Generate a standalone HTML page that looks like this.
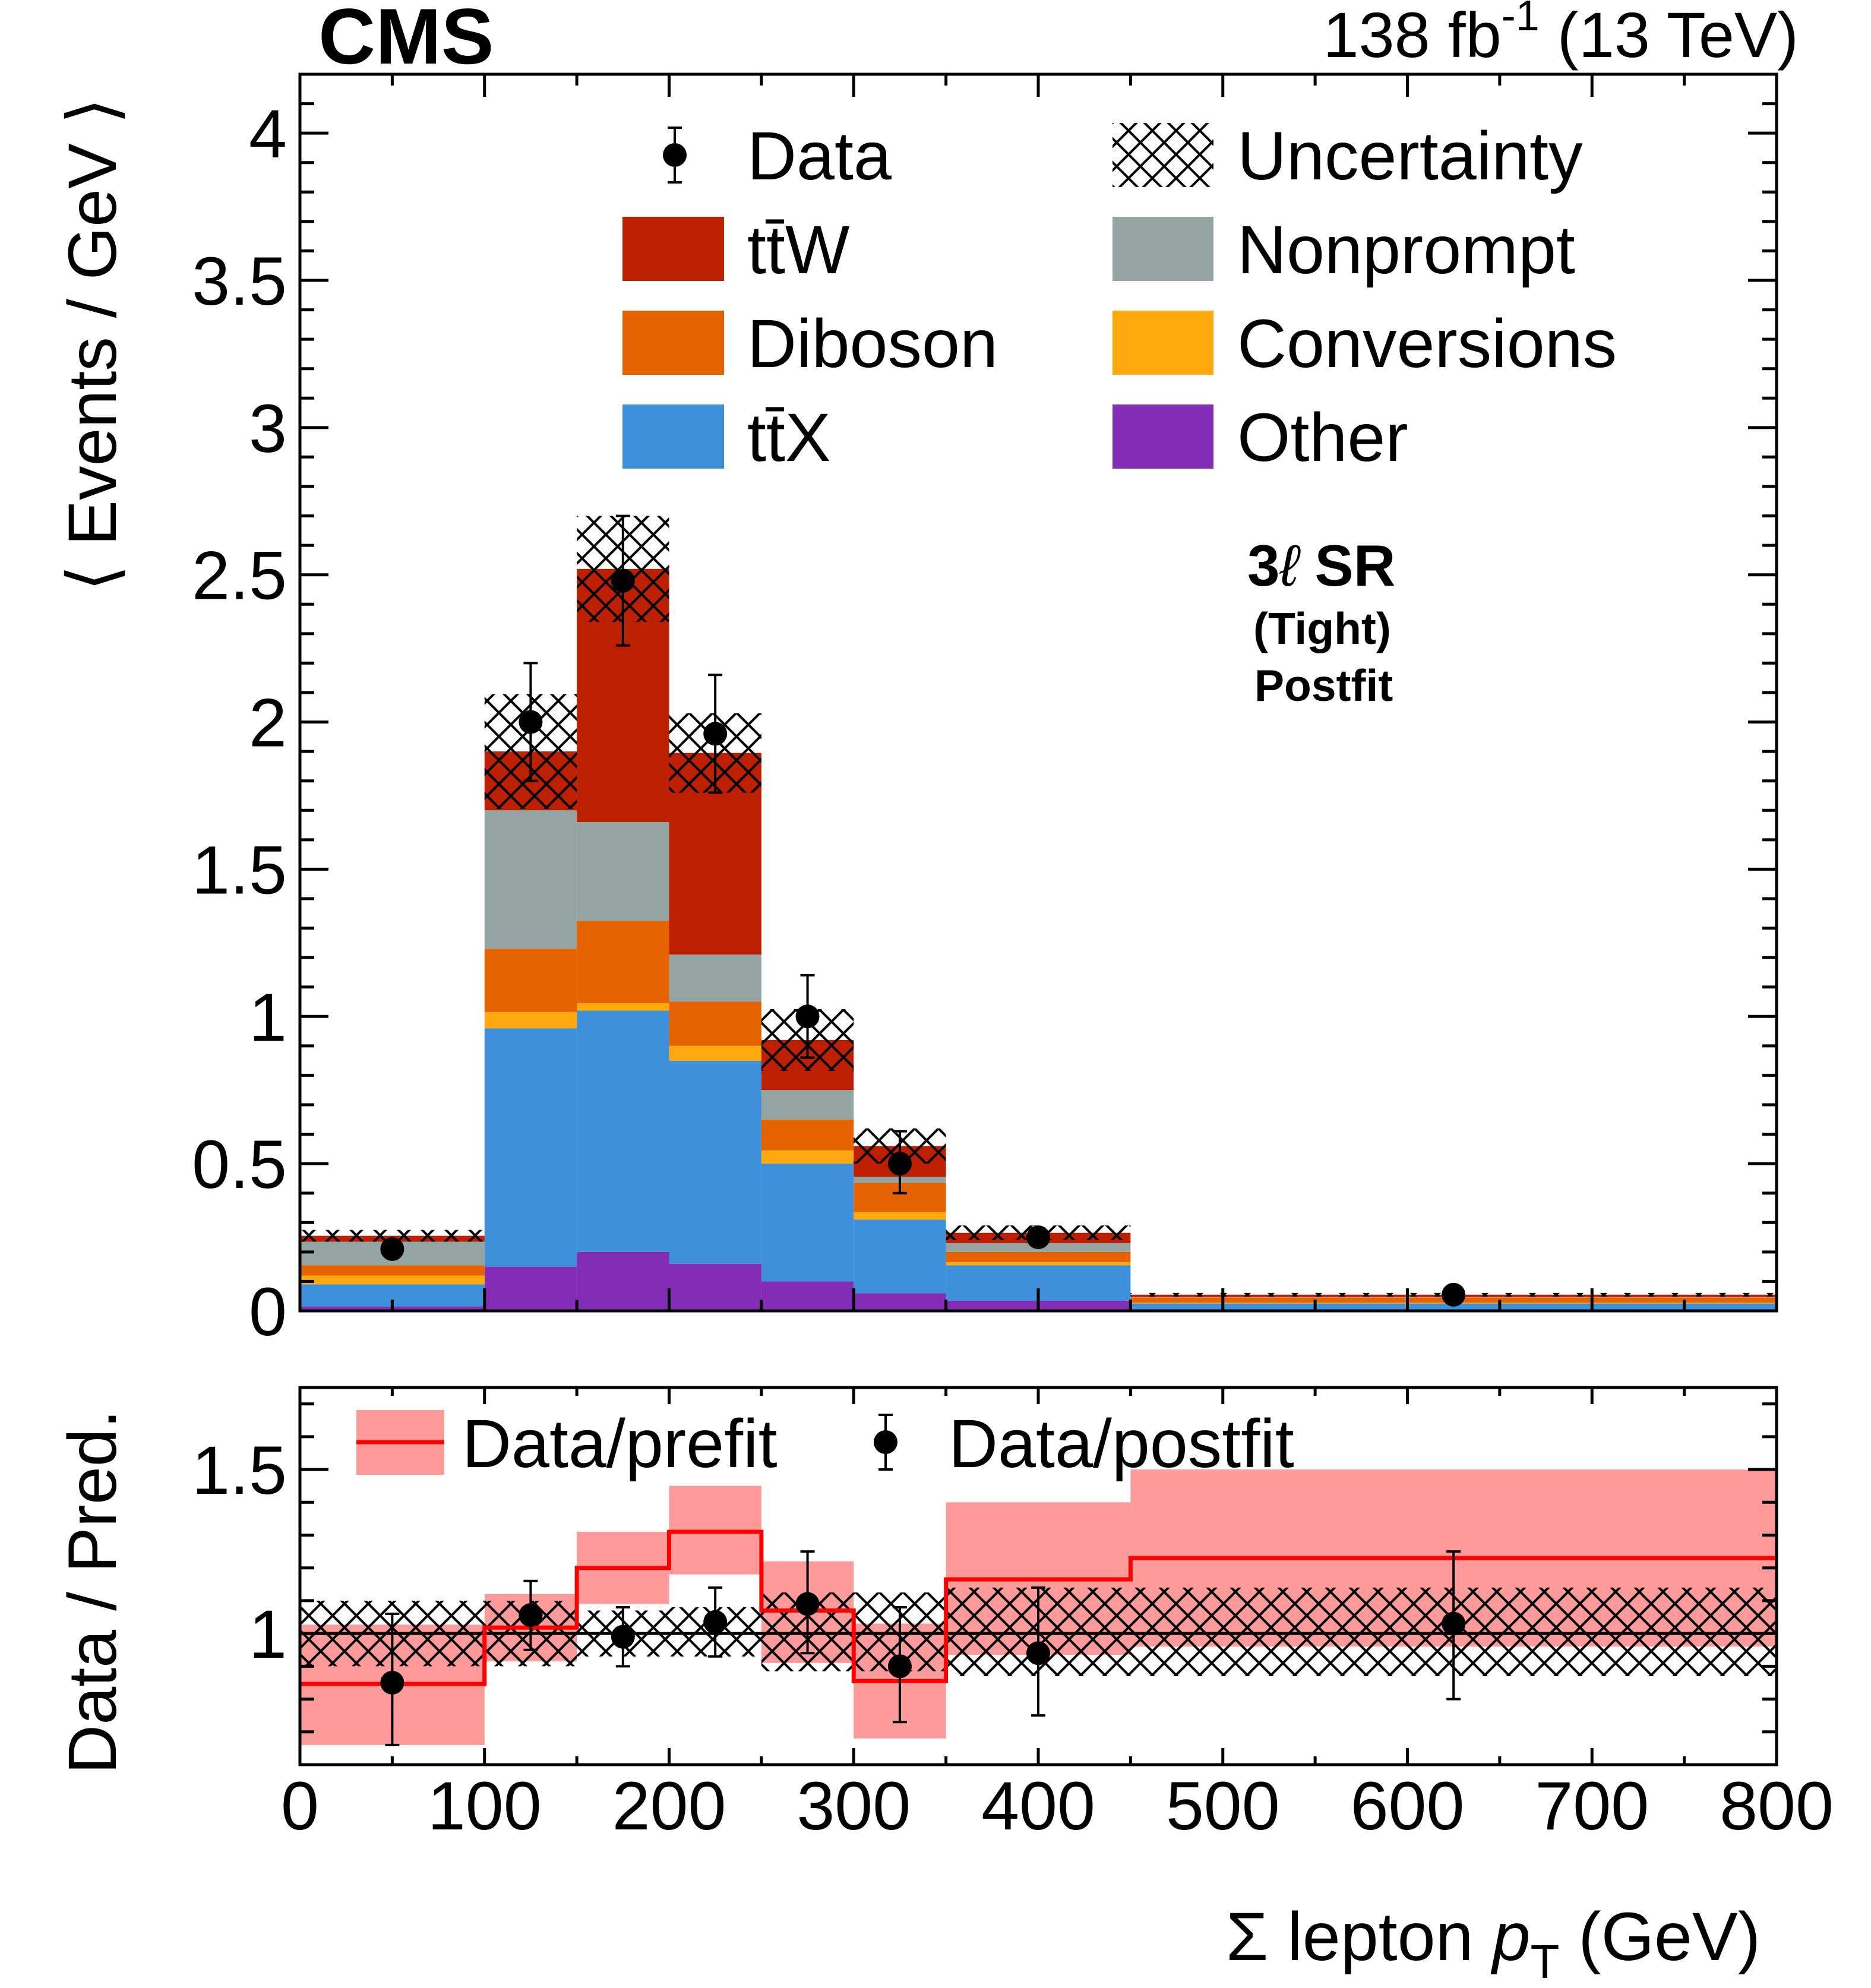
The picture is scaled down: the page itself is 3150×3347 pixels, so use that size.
<!DOCTYPE html>
<html><head><meta charset="utf-8"><style>
html,body{margin:0;padding:0;background:#fff}
svg{display:block}
text{font-family:"Liberation Sans",Arial,sans-serif;fill:#000}
</style></head><body>
<svg id="c" width="3150" height="3347" viewBox="0 0 3150 3347" xmlns="http://www.w3.org/2000/svg">
<defs>
<pattern id="hatch" patternUnits="userSpaceOnUse" width="40" height="40">
<path d="M-10,-10 L50,50 M-10,50 L50,-10 M-30,10 L10,50 M30,-10 L70,30 M-30,30 L10,-10 M30,50 L70,10" stroke="#000" stroke-width="4" fill="none"/>
</pattern>
<clipPath id="clipMain"><rect x="505" y="125" width="2486" height="2082"/></clipPath>
<clipPath id="clipRatio"><rect x="505" y="2336" width="2486" height="635"/></clipPath>
</defs>
<g id="main" clip-path="url(#clipMain)"></g>
<g id="ratio" clip-path="url(#clipRatio)"></g>
<g id="axes"></g>
<text x="536" y="107" font-size="133" font-weight="bold">CMS</text>
<text x="3028" y="96" font-size="108" text-anchor="end">138 fb<tspan dy="-45" font-size="72">-1</tspan><tspan dy="45"> (13 TeV)</tspan></text>
<text transform="translate(195,580) rotate(-90)" font-size="115" text-anchor="middle">⟨ Events / GeV ⟩</text>
<text transform="translate(195,2680) rotate(-90)" font-size="115" text-anchor="middle">Data / Pred.</text>
<text x="2964" y="3300" font-size="115" text-anchor="end">Σ lepton <tspan font-style="italic">p</tspan><tspan dy="30" font-size="80">T</tspan><tspan dy="-30"> (GeV)</tspan></text>
<text x="2100" y="986" font-size="98" font-weight="bold">3<tspan font-style="italic" font-weight="normal">ℓ</tspan>  SR</text>
<text x="2110" y="1084" font-size="75" font-weight="bold">(Tight)</text>
<text x="2112" y="1180" font-size="75" font-weight="bold">Postfit</text>
<g id="legend"></g>
</svg>
<script>
const edges = [0,100,150,200,250,300,350,450,800];
const other = [0.015,0.15,0.20,0.16,0.10,0.06,0.035,0.003];
const ttX   = [0.075,0.81,0.82,0.69,0.40,0.25,0.12,0.022];
const conv  = [0.03,0.055,0.025,0.05,0.045,0.025,0.01,0.003];
const dib   = [0.035,0.215,0.28,0.15,0.105,0.10,0.035,0.017];
const nonp  = [0.08,0.47,0.335,0.16,0.10,0.02,0.03,0.002];
const ttW   = [0.02,0.20,0.86,0.685,0.17,0.105,0.035,0.008];
const unc   = [0.02,0.195,0.18,0.135,0.105,0.06,0.025,0.006];
const dataY = [0.21,2.00,2.48,1.96,1.00,0.50,0.25,0.055];
const dataLo= [0.19,1.80,2.26,1.76,0.86,0.40,0.22,0.045];
const dataHi= [0.23,2.20,2.70,2.16,1.14,0.61,0.28,0.065];
const prefit   = [0.846,1.018,1.20,1.31,1.07,0.855,1.165,1.23];
const prefitLo = [0.66,0.915,1.09,1.18,0.91,0.68,0.935,0.96];
const prefitHi = [1.027,1.12,1.31,1.45,1.22,1.03,1.40,1.50];
const rUncLo = [0.90,0.90,0.93,0.93,0.885,0.885,0.87,0.87];
const rUncHi = [1.10,1.10,1.07,1.08,1.125,1.125,1.14,1.14];
const rData  = [0.85,1.056,0.99,1.035,1.09,0.90,0.94,1.03];
const rDataLo= [0.66,0.95,0.90,0.93,0.94,0.73,0.75,0.80];
const rDataHi= [1.06,1.16,1.08,1.14,1.25,1.08,1.14,1.25];
const yTicks = [0,0.5,1,1.5,2,2.5,3,3.5,4];
const yTickLabels = ["0","0.5","1","1.5","2","2.5","3","3.5","4"];
const xTicks = [0,100,200,300,400,500,600,700,800];
const xTickLabels = ["0","100","200","300","400","500","600","700","800"];
const rTicks = [1,1.5];
const rTickLabels = ["1","1.5"];

const NS="http://www.w3.org/2000/svg";
const X0=505,X1=2991,MT=125,MB=2207,RT=2336,RB=2971;
const YMAX=4.2,RMIN=0.6,RMAX=1.75;
const sx=v=>X0+(v/800)*(X1-X0);
const sy=v=>MB-(v/YMAX)*(MB-MT);
const ry=v=>RB-((v-RMIN)/(RMAX-RMIN))*(RB-RT);
function mk(tag,attrs,parent){const e=document.createElementNS(NS,tag);for(const k in attrs)e.setAttribute(k,attrs[k]);parent.appendChild(e);return e;}
const gM=document.getElementById('main'),gR=document.getElementById('ratio'),gA=document.getElementById('axes'),gL=document.getElementById('legend');

// stacked histogram
const layers=[["other",other,"#832db6"],["ttx",ttX,"#3f90da"],["conversions",conv,"#ffa90e"],["diboson",dib,"#e76300"],["nonprompt",nonp,"#94a4a2"],["ttw",ttW,"#bd1f01"]];
const cum=edges.slice(0,-1).map(()=>0);
layers.forEach(([nm,arr,col])=>{
  for(let i=0;i<arr.length;i++){
    const lo=cum[i],hi=cum[i]+arr[i];cum[i]=hi;
    const r=mk('rect',{x:sx(edges[i]),y:sy(hi),width:sx(edges[i+1])-sx(edges[i]),height:sy(lo)-sy(hi),fill:col},gM);
    
    
  }
});
// uncertainty hatch
for(let i=0;i<cum.length;i++){
  const r=mk('rect',{x:sx(edges[i]),y:sy(cum[i]+unc[i]),width:sx(edges[i+1])-sx(edges[i]),height:sy(cum[i]-unc[i])-sy(cum[i]+unc[i]),fill:'url(#hatch)'},gM);
  
  
}
function point(g,cx,y,ylo,yhi,name){
  const grp=mk('g',{},g);
  
  
  mk('line',{x1:cx,x2:cx,y1:ylo,y2:yhi,stroke:'#000','stroke-width':4},grp);
  mk('line',{x1:cx-12,x2:cx+12,y1:ylo,y2:ylo,stroke:'#000','stroke-width':4},grp);
  mk('line',{x1:cx-12,x2:cx+12,y1:yhi,y2:yhi,stroke:'#000','stroke-width':4},grp);
  mk('circle',{cx:cx,cy:y,r:20,fill:'#000'},grp);
}
for(let i=0;i<dataY.length;i++){
  const cx=sx((edges[i]+edges[i+1])/2);
  point(gM,cx,sy(dataY[i]),sy(dataLo[i]),sy(dataHi[i]),'data-point-bin'+(i+1));
}
// ratio
for(let i=0;i<prefit.length;i++){
  const r=mk('rect',{x:sx(edges[i]),y:ry(prefitHi[i]),width:sx(edges[i+1])-sx(edges[i]),height:ry(prefitLo[i])-ry(prefitHi[i]),fill:'#fe9a9a'},gR);
  
  
}
for(let i=0;i<rUncLo.length;i++){
  const r=mk('rect',{x:sx(edges[i]),y:ry(rUncHi[i]),width:sx(edges[i+1])-sx(edges[i]),height:ry(rUncLo[i])-ry(rUncHi[i]),fill:'url(#hatch)'},gR);
  
  
}
const ul=mk('line',{x1:X0,x2:X1,y1:ry(1),y2:ry(1),stroke:'#000','stroke-width':5},gR);


let d='';
for(let i=0;i<prefit.length;i++){d+=(i?'L':'M')+sx(edges[i])+','+ry(prefit[i])+'L'+sx(edges[i+1])+','+ry(prefit[i]);}
const pl=mk('path',{d:d,stroke:'#ff0000','stroke-width':7,fill:'none'},gR);


for(let i=0;i<rData.length;i++){
  const cx=sx((edges[i]+edges[i+1])/2);
  point(gR,cx,ry(rData[i]),ry(rDataLo[i]),ry(rDataHi[i]),'ratio-point-bin'+(i+1));
}
// frames & ticks
function frame(top,bot,name){
  const r=mk('rect',{x:X0,y:top,width:X1-X0,height:bot-top,fill:'none',stroke:'#000','stroke-width':5},gA);
  
  
}
frame(MT,MB,'main-frame');frame(RT,RB,'ratio-frame');
function tick(x1,y1,x2,y2){mk('line',{x1,y1,x2,y2,stroke:'#000','stroke-width':5},gA);}
for(let v=0;v<=800;v+=50){
  const x=sx(v),maj=v%100===0;
  const L=maj?38:19,Lr=maj?28:14;
  tick(x,MB,x,MB-L);tick(x,MT,x,MT+L);
  tick(x,RB,x,RB-Lr);tick(x,RT,x,RT+Lr);
}
for(let k=1;k<=42;k++){
  const v=k/10,y=sy(v),L=(k%5===0)?48:24;
  tick(X0,y,X0+L,y);tick(X1,y,X1-L,y);
}
for(let k=7;k<=17;k++){
  const v=k/10,y=ry(v),L=(k%5===0)?48:24;
  tick(X0,y,X0+L,y);tick(X1,y,X1-L,y);
}
yTicks.forEach((v,i)=>{
  const t=mk('text',{x:483,y:sy(v)+41,'font-size':115,'text-anchor':'end'},gA);
  t.textContent=yTickLabels[i];
  
  
});
rTicks.forEach((v,i)=>{
  const t=mk('text',{x:483,y:ry(v)+41,'font-size':115,'text-anchor':'end'},gA);
  t.textContent=rTickLabels[i];
  
  
});
xTicks.forEach((v,i)=>{
  const t=mk('text',{x:sx(v),y:3080,'font-size':115,'text-anchor':'middle'},gA);
  t.textContent=xTickLabels[i];
  
  
});
// legend
function ltext(x,y,s,name){const t=mk('text',{x:x,y:y,'font-size':115},gL);t.textContent=s;}
const rowsY=[261,419,577,735];
point(gL,1136,rowsY[0],rowsY[0]-46,rowsY[0]+46,'legend-data-marker');
ltext(1258,rowsY[0]+41,'Data','legend-data');
const lEntries=[["tt̄W","#bd1f01",1],["Diboson","#e76300",2],["tt̄X","#3f90da",3]];
lEntries.forEach(([s,c,r])=>{
  const b=mk('rect',{x:1048,y:rowsY[r]-54,width:171,height:108,fill:c},gL);
  
  
  ltext(1258,rowsY[r]+41,s,'legend-entry');
});
const rEntries=[["Uncertainty","url(#hatch)",0],["Nonprompt","#94a4a2",1],["Conversions","#ffa90e",2],["Other","#832db6",3]];
rEntries.forEach(([s,c,r])=>{
  const b=mk('rect',{x:1873,y:rowsY[r]-54,width:170,height:108,fill:c},gL);
  
  
  ltext(2083,rowsY[r]+41,s,'legend-entry');
});
const pb=mk('rect',{x:600,y:2374,width:148,height:109,fill:'#fe9a9a'},gL);


mk('line',{x1:600,x2:748,y1:2428,y2:2428,stroke:'#ff0000','stroke-width':7},gL);
ltext(778,2470,'Data/prefit','legend-prefit');
point(gL,1491,2428,2382,2474,'legend-postfit-marker');
ltext(1597,2470,'Data/postfit','legend-postfit');
</script>
</body></html>
